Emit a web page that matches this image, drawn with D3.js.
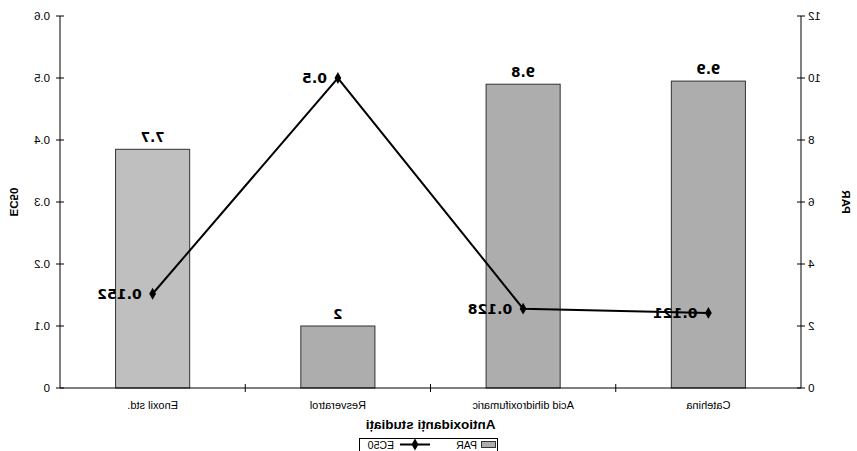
<!DOCTYPE html>
<html><head><meta charset="utf-8">
<script src="https://cdn.jsdelivr.net/npm/d3@7"></script>
<style>body{margin:0;background:#fff}svg{display:block}</style>
</head><body>
<script>
const categories = ["Catehina", "Acid dihidroxifumaric", "Resveratrol", "Enoxil std."];
const parValues = [9.9, 9.8, 2, 7.7];
const ec50Values = [0.121, 0.128, 0.5, 0.152];
const parTicks = [0, 2, 4, 6, 8, 10, 12];
const ec50Ticks = [0, 0.1, 0.2, 0.3, 0.4, 0.5, 0.6];
const ec50Labels = ["0", "0.1", "0.2", "0.3", "0.4", "0.5", "0.6"];
const barColors = ["#adadad", "#adadad", "#adadad", "#bfbfbf"];

(function () {
const W = 857, H = 451;
const pL = 56, pR = 797, pT = 16, pB = 388;
const svg = d3.select("body").append("svg").attr("width", W).attr("height", H);
// the reference picture is mirrored horizontally
const g = svg.append("g").attr("transform", `translate(${W},0) scale(-1,1)`);

const x = d3.scaleBand().domain(categories).range([pL, pR]).paddingInner(0.6).paddingOuter(0.3);
const xb = d3.scaleBand().domain(categories).range([pL, pR]);
const yPar = d3.scaleLinear().domain([0, 12]).range([pB, pT]);
const yEc = d3.scaleLinear().domain([0, 0.6]).range([pB, pT]);

const tickFont = "Liberation Sans, Arial, sans-serif";

// bars
g.selectAll("rect.bar").data(categories).join("rect")
  .attr("x", d => x(d)).attr("width", x.bandwidth())
  .attr("y", (d, i) => yPar(parValues[i])).attr("height", (d, i) => pB - yPar(parValues[i]))
  .attr("fill", (d, i) => barColors[i]).attr("stroke", "#333").attr("stroke-width", 1);

g.selectAll("text.barlab").data(categories).join("text")
  .attr("x", d => x(d) + x.bandwidth() / 2).attr("y", (d, i) => yPar(parValues[i]) - 7)
  .attr("text-anchor", "middle").attr("font-family", "DejaVu Sans, sans-serif").attr("font-weight", "bold")
  .attr("font-size", 13.5).attr("fill", "#000").text((d, i) => parValues[i]);

// axes
const axL = d3.axisLeft(yPar).tickValues(parTicks).tickSize(0).tickPadding(7);
const gl = g.append("g").attr("transform", `translate(${pL},0)`).call(axL);
const axR = d3.axisRight(yEc).tickValues(ec50Ticks).tickFormat((d, i) => ec50Labels[i]).tickSize(0).tickPadding(10);
const gr = g.append("g").attr("transform", `translate(${pR},0)`).call(axR);
[gl, gr].forEach(a => {
  a.select(".domain").remove();
  a.selectAll("text").attr("font-family", tickFont).attr("font-size", 11.5).attr("fill", "#000");
});
// cross tick marks
g.selectAll("line.tl").data(parTicks).join("line")
  .attr("x1", pL - 4).attr("x2", pL + 4).attr("y1", d => yPar(d)).attr("y2", d => yPar(d)).attr("stroke", "#000");
g.selectAll("line.tr").data(ec50Ticks).join("line")
  .attr("x1", pR - 4).attr("x2", pR + 4).attr("y1", d => yEc(d)).attr("y2", d => yEc(d)).attr("stroke", "#000");
g.append("line").attr("x1", pL).attr("x2", pL).attr("y1", pT).attr("y2", pB).attr("stroke", "#000");
g.append("line").attr("x1", pR).attr("x2", pR).attr("y1", pT).attr("y2", pB).attr("stroke", "#000");
g.append("line").attr("x1", pL).attr("x2", pR).attr("y1", pB).attr("y2", pB).attr("stroke", "#000");
const bounds = categories.slice(1).map(d => xb(d));
g.selectAll("line.tx").data(bounds).join("line")
  .attr("x1", d => d).attr("x2", d => d).attr("y1", pB - 4).attr("y2", pB + 4).attr("stroke", "#000");

g.selectAll("text.cat").data(categories).join("text")
  .attr("x", d => xb(d) + xb.bandwidth() / 2).attr("y", 409)
  .attr("text-anchor", "middle").attr("font-family", tickFont).attr("font-size", 11).text(d => d);

// axis titles
g.append("text").attr("x", (pL + pR) / 2).attr("y", 429).attr("text-anchor", "middle")
  .attr("font-family", tickFont).attr("font-weight", "bold").attr("font-size", 13.5).text("Antioxidanți studiați");
g.append("text").attr("transform", `translate(15,${(pT + pB) / 2}) rotate(-90)`).attr("text-anchor", "middle")
  .attr("font-family", tickFont).attr("font-weight", "bold").attr("font-size", 11.5).text("PAR");
g.append("text").attr("transform", `translate(847,${(pT + pB) / 2}) rotate(-90)`).attr("text-anchor", "middle")
  .attr("font-family", tickFont).attr("font-weight", "bold").attr("font-size", 11.5).text("EC50");

// line
const cx = d => xb(d) + xb.bandwidth() / 2;
const line = d3.line().x(d => cx(d)).y((d, i) => yEc(ec50Values[i]));
g.append("path").datum(categories).attr("d", line).attr("fill", "none").attr("stroke", "#000").attr("stroke-width", 2);
const diamond = d3.symbol().type(d3.symbolDiamond).size(40);
g.selectAll("path.mk").data(categories).join("path")
  .attr("d", diamond).attr("transform", (d, i) => `translate(${cx(d)},${yEc(ec50Values[i])})`).attr("fill", "#000");
g.selectAll("text.ln").data(categories).join("text")
  .attr("x", d => cx(d) + 11).attr("y", (d, i) => yEc(ec50Values[i])).attr("dy", "0.36em")
  .attr("font-family", "DejaVu Sans, sans-serif").attr("font-weight", "bold").attr("font-size", 14)
  .text((d, i) => ec50Values[i]);

// legend
const lg = g.append("g");
lg.append("rect").attr("x", 359.5).attr("y", 438.5).attr("width", 138).attr("height", 13).attr("fill", "#fff").attr("stroke", "#000");
lg.append("rect").attr("x", 361.5).attr("y", 441.5).attr("width", 14).attr("height", 6).attr("fill", barColors[0]).attr("stroke", "#333");
lg.append("text").attr("x", 380).attr("y", 448.5).attr("font-family", tickFont).attr("font-size", 10.5).text("PAR");
lg.append("line").attr("x1", 427).attr("x2", 457).attr("y1", 444.5).attr("y2", 444.5).attr("stroke", "#000").attr("stroke-width", 2);
lg.append("path").attr("d", diamond).attr("transform", "translate(442,444.5)").attr("fill", "#000");
lg.append("text").attr("x", 463).attr("y", 448.5).attr("font-family", tickFont).attr("font-size", 10.5).text("EC50");
})();
</script>
</body></html>
